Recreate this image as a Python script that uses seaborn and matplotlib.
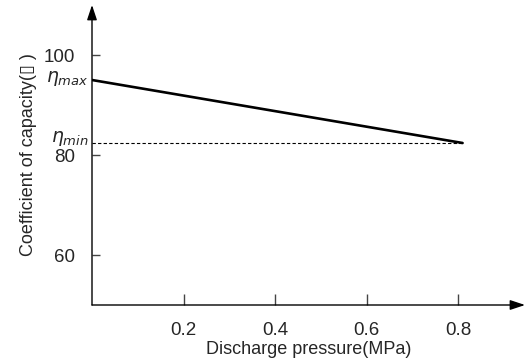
import matplotlib
matplotlib.use('Agg')
import matplotlib.pyplot as plt
import pandas as pd
import seaborn as sb

#Chart data
pressure = [0.0, 0.81]
capacity = [95.0, 82.4]
eta_min = 82.4
xticks = [0.2, 0.4, 0.6, 0.8]
yticks = [60, 80, 100]

sb.set_style('white')
plt.rcParams['font.family'] = ['Liberation Sans', 'DejaVu Sans']
plt.rcParams['mathtext.fontset'] = 'dejavusans'

fig = plt.figure(figsize = (5.29, 3.6), dpi = 100)
ax = fig.add_axes([92/529, 55/360, 433/529, 300/360])

df = pd.DataFrame({'pressure': pressure, 'capacity': capacity})
sb.lineplot(data = df, x = 'pressure', y = 'capacity', color = 'black', linewidth = 1.9, ax = ax)
ax.plot([0, pressure[-1]], [eta_min, eta_min], color = 'black', linewidth = 0.8, linestyle = (0, (3, 2)))

ax.set_xlim(0, 433/457.5)
ax.set_ylim(50, 110)
for s in ax.spines.values():
    s.set_visible(False)

#Axis arrows
ax.annotate('', xy = (1, 0), xytext = (0, 0), xycoords = 'axes fraction',
            arrowprops = dict(arrowstyle = '-|>,head_length=0.9,head_width=0.3', color = 'black', lw = 1, shrinkA = 0, shrinkB = 0))
ax.annotate('', xy = (0, 1), xytext = (0, 0), xycoords = 'axes fraction',
            arrowprops = dict(arrowstyle = '-|>,head_length=0.9,head_width=0.3', color = 'black', lw = 1, shrinkA = 0, shrinkB = 0))

ax.set_xticks(xticks)
ax.set_xticklabels([str(t) for t in xticks])
ax.set_yticks(yticks)
ax.set_yticklabels([str(t) for t in yticks])
ax.tick_params(axis = 'x', direction = 'in', length = 8, width = 1, color = '#444444', pad = 12, labelsize = 13.5)
ax.tick_params(axis = 'y', direction = 'in', length = 6, width = 1, color = '#444444', pad = 12, labelsize = 13.5)
ax.tick_params(bottom = True, left = True)

ax.text(-0.008, 95.4, r'$\eta_{max}$', ha = 'right', va = 'center', fontsize = 13.5)
ax.text(-0.008, 83.2, r'$\eta_{min}$', ha = 'right', va = 'center', fontsize = 13.5)

ax.set_xlabel('Discharge pressure(MPa)', fontsize = 13, labelpad = 1.5)
ax.set_ylabel('Coefficient of capacity(\u25af )', fontsize = 13, labelpad = 5)

fig.savefig('out.png', dpi = 100)
